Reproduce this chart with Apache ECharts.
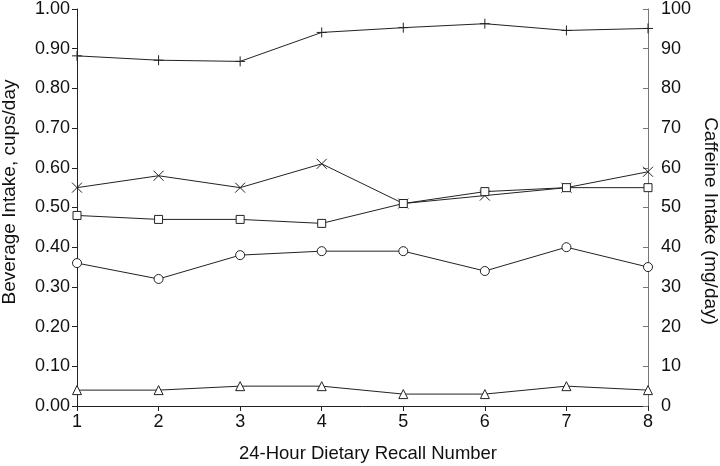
<!DOCTYPE html>
<html>
<head>
<meta charset="utf-8">
<script src="https://cdn.jsdelivr.net/npm/echarts@6/dist/echarts.min.js"></script>
<style>
html,body{margin:0;padding:0;background:#fff;}
#chart{width:720px;height:466px;}
</style>
</head>
<body>
<div id="chart"></div>
<script>
var recallNumber = [1, 2, 3, 4, 5, 6, 7, 8];
var seriesCircle = [0.36, 0.32, 0.38, 0.39, 0.39, 0.34, 0.40, 0.35];
var seriesSquare = [0.48, 0.47, 0.47, 0.46, 0.51, 0.54, 0.55, 0.55];
var seriesCross = [0.55, 0.58, 0.55, 0.61, 0.51, 0.53, 0.55, 0.59];
var seriesTriangle = [0.04, 0.04, 0.05, 0.05, 0.03, 0.03, 0.05, 0.04];
var caffeinePlus = [88.2, 87.1, 86.8, 94.1, 95.3, 96.3, 94.6, 95.1];

var leftTitle = 'Beverage Intake, cups/day';
var rightTitle = 'Caffeine Intake (mg/day)';
var xTitle = '24-Hour Dietary Recall Number';

var FONT = '"Liberation Sans", Arial, sans-serif';
var INK = '#111';

function pairs(vals) {
  return recallNumber.map(function (x, i) { return [x, vals[i]]; });
}

function lineSeries(name, vals, symbol, size, axisIdx) {
  return {
    name: name,
    type: 'line',
    yAxisIndex: axisIdx || 0,
    data: pairs(vals),
    symbol: symbol,
    symbolSize: size,
    showAllSymbol: true,
    lineStyle: { color: '#222', width: 1 },
    itemStyle: { color: '#fff', borderColor: '#222', borderWidth: 1 },
    emphasis: { disabled: true },
    animation: false
  };
}

var chart = echarts.init(document.getElementById('chart'), null, { renderer: 'canvas' });

chart.setOption({
  animation: false,
  backgroundColor: '#fff',
  grid: { left: 77, right: 72, top: 8, bottom: 60, containLabel: false },
  xAxis: {
    type: 'value',
    min: 1, max: 8, interval: 1,
    axisLine: { show: true, onZero: false, lineStyle: { color: '#222', width: 1 } },
    axisTick: { show: true, length: 5, inside: false, lineStyle: { color: '#222' } },
    axisLabel: { fontSize: 18, color: INK, fontFamily: FONT, margin: 7 },
    splitLine: { show: false }
  },
  yAxis: [
    {
      type: 'value', position: 'left',
      min: 0, max: 1, interval: 0.1,
      axisLine: { show: true, lineStyle: { color: '#222', width: 1 } },
      axisTick: { show: true, length: 5, inside: false, lineStyle: { color: '#222' } },
      axisLabel: { fontSize: 18, color: INK, fontFamily: FONT, margin: 7,
        formatter: function (v) { return v.toFixed(2); } },
      splitLine: { show: false }
    },
    {
      type: 'value', position: 'right',
      min: 0, max: 100, interval: 10,
      axisLine: { show: true, lineStyle: { color: '#777', width: 1 } },
      axisTick: { show: true, length: 5, inside: true, lineStyle: { color: '#777' } },
      axisLabel: { fontSize: 18, color: INK, fontFamily: FONT, margin: 13 },
      splitLine: { show: false }
    }
  ],
  graphic: [
    { type: 'text', x: 10, y: 192, rotation: Math.PI / 2,
      style: { text: leftTitle, fontSize: 19, fontFamily: FONT, fill: INK, align: 'center', verticalAlign: 'middle' } },
    { type: 'text', x: 710, y: 221, rotation: -Math.PI / 2,
      style: { text: rightTitle, fontSize: 19, fontFamily: FONT, fill: INK, align: 'center', verticalAlign: 'middle' } },
    { type: 'text', x: 368, y: 454,
      style: { text: xTitle, fontSize: 18.5, fontFamily: FONT, fill: INK, align: 'center', verticalAlign: 'middle' } }
  ],
  series: [
    lineSeries('plus', caffeinePlus, 'path://M0,5L10,5M5,0L5,10', 10, 1),
    lineSeries('cross', seriesCross, 'path://M0,0L10,10M10,0L0,10', 10),
    lineSeries('square', seriesSquare, 'rect', 8),
    lineSeries('circle', seriesCircle, 'circle', 9),
    lineSeries('triangle', seriesTriangle, 'triangle', 9)
  ]
});
</script>
</body>
</html>
